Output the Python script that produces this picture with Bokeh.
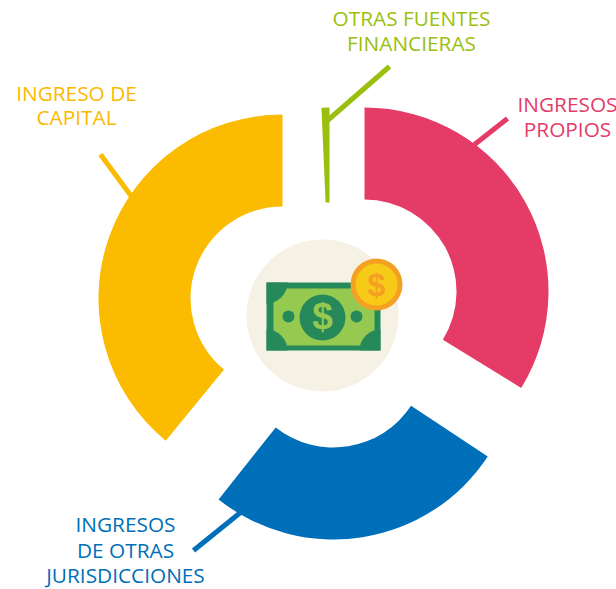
from math import radians
from bokeh.plotting import figure
from bokeh.models import Range1d
from bokeh.core.properties import value
from bokeh.embed import file_html
from bokeh.resources import INLINE

W, H = 616, 589
FONT = "Open Sans"
SIGN_FONT = "Liberation Sans"

# Slices of the exploded donut
categories = ["INGRESOS PROPIOS", "INGRESOS DE OTRAS JURISDICCIONES", "INGRESO DE CAPITAL", "OTRAS FUENTES FINANCIERAS"]
span_deg = [121.6, 94.9, 140.6, 2.5]
start_deg = [-31.6, 231.6, 90.0, 90.0]
colors = ["#e43c67", "#006fb9", "#fbbb00", "#9bbf0e"]
center_x = [364, 333, 282, 329]
center_y = [291, 354, 298, 292]
inner_r = [92, 93, 92, 90]
outer_r = [184, 185, 184, 185]

# Leader lines: x0, y0, x1, y1
leaders = [(474, 144, 507, 118, "#e43c67"), (240, 512, 193, 550, "#006fb9"),
           (131, 196, 100, 154, "#fbbb00"), (327, 120, 389, 66, "#9bbf0e")]

# Labels: text, x, y, colour
labels = [("OTRAS FUENTES", 411, 17, "#9bbf0e"), ("FINANCIERAS", 411, 42, "#9bbf0e"),
          ("INGRESOS", 567, 103, "#e43c67"), ("PROPIOS", 567, 128, "#e43c67"),
          ("INGRESO DE", 76, 92, "#fbb900"), ("CAPITAL", 76, 116, "#fbb900"),
          ("INGRESOS", 125, 523, "#006fb9"), ("DE OTRAS", 125, 549, "#006fb9"),
          ("JURISDICCIONES", 125, 574, "#006fb9")]

Y = lambda py: H - py

p = figure(width=W, height=H, output_backend="svg", toolbar_location=None,
           x_range=Range1d(0, W), y_range=Range1d(0, H), min_border=0,
           margin=(0, 0, 0, 0), outline_line_color=None,
           background_fill_color="white", border_fill_color="white")
p.axis.visible = False
p.grid.visible = False

for i in range(len(categories)):
    p.annular_wedge(x=[center_x[i]], y=[Y(center_y[i])], inner_radius=inner_r[i], outer_radius=outer_r[i],
                    start_angle=radians(start_deg[i]), end_angle=radians(start_deg[i] + span_deg[i]),
                    fill_color=colors[i], line_color=None)

for x0, y0, x1, y1, c in leaders:
    p.segment(x0=[x0], y0=[Y(y0)], x1=[x1], y1=[Y(y1)], line_color=c, line_width=5)

for t, x, y, c in labels:
    p.text(x=[x], y=[Y(y)], text=[t], text_color=c, text_font=value(FONT), text_font_size="20.8px",
           text_align="center", text_baseline="middle")

# Central money icon
DARK, LIGHT = "#26895a", "#95c94f"
p.circle(x=[322], y=[Y(315)], radius=76, fill_color="#f5f1e4", line_color=None)
p.quad(left=[266], right=[380], top=[Y(282)], bottom=[Y(350)], fill_color=DARK, line_color=None)
p.quad(left=[273], right=[374], top=[Y(288)], bottom=[Y(345)], fill_color=LIGHT, line_color=None)
for cx, cy, a0 in [(266, 282, 270), (380, 282, 180), (266, 350, 0), (380, 350, 90)]:
    p.wedge(x=[cx], y=[Y(cy)], radius=21, start_angle=radians(a0), end_angle=radians(a0 + 90),
            fill_color=DARK, line_color=None)
p.circle(x=[322], y=[Y(317)], radius=23, fill_color=DARK, line_color=None)
p.circle(x=[288, 356], y=[Y(316), Y(316)], radius=6, fill_color=DARK, line_color=None)
p.text(x=[322], y=[Y(316)], text=["$"], text_color=LIGHT, text_font=value(SIGN_FONT), text_font_style="bold",
       text_font_size="37px", text_align="center", text_baseline="middle")
p.circle(x=[376], y=[Y(284)], radius=26, fill_color="#f4a023", line_color=None)
p.circle(x=[376], y=[Y(284)], radius=21, fill_color="#f7ca18", line_color=None)
p.text(x=[376], y=[Y(284)], text=["$"], text_color="#f4a023", text_font=value(SIGN_FONT), text_font_style="bold",
       text_font_size="32px", text_align="center", text_baseline="middle")

open("out.html", "w").write(file_html(p, INLINE))
